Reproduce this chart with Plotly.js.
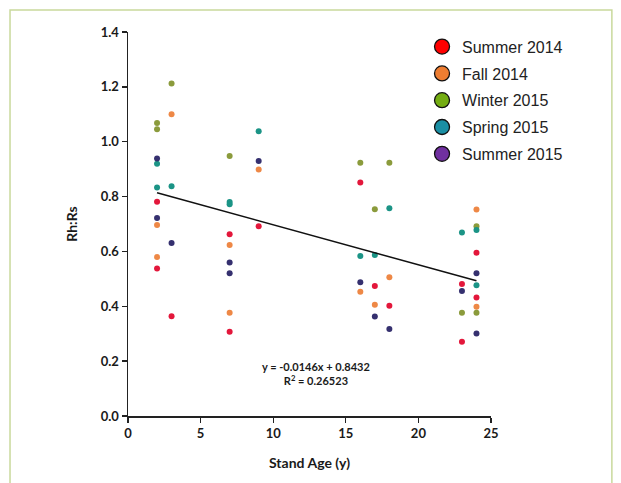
<!DOCTYPE html>
<html>
<head>
<meta charset="utf-8">
<script src="https://cdn.plot.ly/plotly-3.0.1.min.js"></script>
<style>
html,body{margin:0;padding:0;background:#fff;}
#chart{width:621px;height:483px;}
</style>
</head>
<body>
<div id="chart"></div>
<script>
// ---- data ----
var seriesNames = ["Summer 2014", "Fall 2014", "Winter 2015", "Spring 2015", "Summer 2015"];

var summer2014Age = [2, 2, 3, 7, 7, 9, 16, 17, 18, 23, 23, 24, 24];
var summer2014Val = [0.781, 0.538, 0.364, 0.663, 0.307, 0.692, 0.851, 0.474, 0.402, 0.481, 0.271, 0.595, 0.432];

var fall2014Age = [2, 2, 3, 7, 7, 9, 16, 17, 18, 24, 24];
var fall2014Val = [0.696, 0.580, 1.100, 0.623, 0.376, 0.899, 0.453, 0.406, 0.506, 0.753, 0.398];

var winter2015Age = [2, 2, 3, 7, 16, 17, 18, 23, 24, 24];
var winter2015Val = [1.068, 1.045, 1.212, 0.948, 0.923, 0.754, 0.923, 0.376, 0.692, 0.376];

var spring2015Age = [2, 2, 3, 7, 7, 9, 16, 17, 18, 23, 24, 24];
var spring2015Val = [0.920, 0.833, 0.838, 0.780, 0.772, 1.038, 0.583, 0.587, 0.757, 0.669, 0.678, 0.477];

var summer2015Age = [2, 2, 3, 7, 7, 9, 16, 17, 18, 23, 24, 24];
var summer2015Val = [0.939, 0.722, 0.631, 0.560, 0.520, 0.930, 0.488, 0.363, 0.317, 0.456, 0.520, 0.301];

var trendSlope = -0.0146;
var trendIntercept = 0.8432;
var trendR2 = 0.26523;

var xTicks = [0, 5, 10, 15, 20, 25];
var yTicks = [0.0, 0.2, 0.4, 0.6, 0.8, 1.0, 1.2, 1.4];

// ---- styles ----
var dotColors = ["#e3173b", "#ee8846", "#8b9b3c", "#1b9486", "#35306f"];
var legendColors = ["#ff0000", "#ed7d31", "#74ad12", "#1a8fa4", "#7030a0"];

var ages = [summer2014Age, fall2014Age, winter2015Age, spring2015Age, summer2015Age];
var vals = [summer2014Val, fall2014Val, winter2015Val, spring2015Val, summer2015Val];

var traces = [];
for (var i = 0; i < seriesNames.length; i++) {
  traces.push({
    type: "scatter", mode: "markers",
    x: ages[i], y: vals[i], name: seriesNames[i],
    showlegend: false,
    marker: {size: 6, color: dotColors[i], line: {width: 0}},
    hoverinfo: "x+y"
  });
}
for (var j = 0; j < seriesNames.length; j++) {
  traces.push({
    type: "scatter", mode: "markers",
    x: [null], y: [null], name: seriesNames[j],
    legendgroup: "g" + j,
    showlegend: true,
    marker: {size: 15, color: legendColors[j], line: {width: 1.3, color: "#111"}}
  });
}

// trend line across the range of stand ages
var allAges = [].concat.apply([], ages);
var xMin = Math.min.apply(null, allAges), xMax = Math.max.apply(null, allAges);
traces.push({
  type: "scatter", mode: "lines",
  x: [xMin, xMax],
  y: [trendSlope * xMin + trendIntercept, trendSlope * xMax + trendIntercept],
  line: {color: "#111", width: 1.5},
  showlegend: false, hoverinfo: "skip"
});

var eqText = "y = " + trendSlope.toFixed(4) + "x + " + trendIntercept.toFixed(4) +
             "<br>R<sup>2</sup> = " + trendR2.toFixed(5);

var tickFont = {family: "Lato, 'Liberation Sans', sans-serif", size: 13, color: "#1a1a1a", weight: "bold"};

var layout = {
  width: 621, height: 483,
  margin: {l: 128, r: 130, t: 32, b: 67},
  paper_bgcolor: "#ffffff",
  plot_bgcolor: "rgba(0,0,0,0)",
  showlegend: true,
  legend: {
    x: 0.81, xanchor: "left", y: 1.006, yanchor: "top",
    bgcolor: "rgba(0,0,0,0)",
    font: {family: "'Liberation Sans Narrow', 'Liberation Sans', sans-serif", size: 16, color: "#222"},
    tracegroupgap: 3,
    itemsizing: "trace"
  },
  xaxis: {
    range: [0, 25], tickvals: xTicks, ticktext: xTicks.map(String),
    showgrid: false, zeroline: false,
    showline: true, linecolor: "#222", linewidth: 1.5,
    ticks: "outside", ticklen: 5, tickwidth: 1.3, tickcolor: "#222",
    tickfont: tickFont,
    title: {text: "Stand Age (y)", font: {family: "Lato, 'Liberation Sans', sans-serif", size: 14, color: "#1a1a1a", weight: "bold"}, standoff: 18},
    automargin: false
  },
  yaxis: {
    range: [0, 1.4], tickvals: yTicks, ticktext: yTicks.map(function (v) { return v.toFixed(1); }),
    showgrid: false, zeroline: false,
    showline: true, linecolor: "#222", linewidth: 1.5,
    ticks: "outside", ticklen: 5, tickwidth: 1.3, tickcolor: "#222",
    tickfont: tickFont,
    title: {text: "Rh:Rs", font: {family: "Lato, 'Liberation Sans', sans-serif", size: 14, color: "#1a1a1a", weight: "bold"}, standoff: 20},
    automargin: false
  },
  annotations: [{
    xref: "x", yref: "y", x: 12.95, y: 0.155,
    text: eqText, showarrow: false,
    font: {family: "Lato, 'Liberation Sans', sans-serif", size: 11, color: "#1a1a1a", weight: "bold"},
    align: "center"
  }],
  shapes: [{
    type: "rect", xref: "paper", yref: "paper", layer: "below",
    x0: -0.325, x1: 1.333, y0: -0.25, y1: 1.057,
    line: {color: "#c9d99c", width: 1.5}, fillcolor: "rgba(0,0,0,0)"
  }]
};

Plotly.newPlot("chart", traces, layout, {displayModeBar: false, staticPlot: true});
</script>
</body>
</html>
